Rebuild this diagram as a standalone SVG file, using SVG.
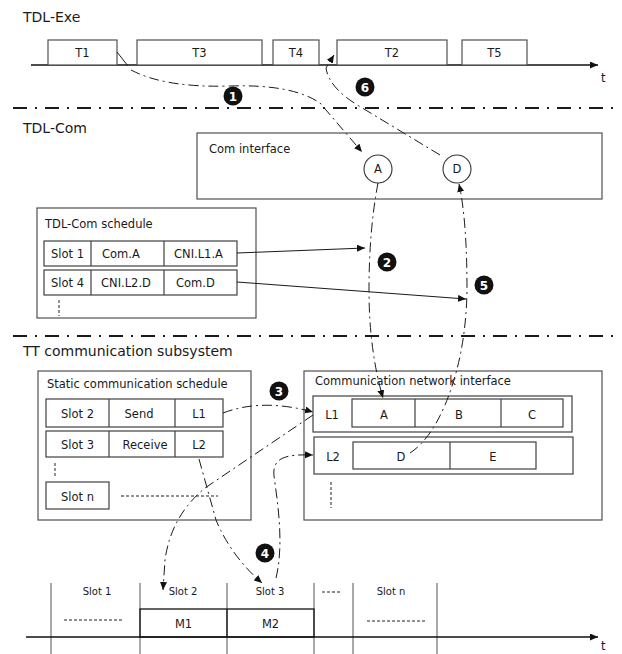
<svg xmlns="http://www.w3.org/2000/svg" width="622" height="654" viewBox="0 0 622 654">
  <style>
    text { font-family: "DejaVu Sans", Verdana, sans-serif; fill: #1a1a1a; }
    .h { font-size: 14px; }
    .t { font-size: 11.5px; }
    .s { font-size: 10px; }
    .c { text-anchor: middle; }
    .box { fill: #fff; stroke: #505050; stroke-width: 1.2; }
    .cell { fill: none; stroke: #404040; stroke-width: 1.2; }
    .axis { fill: none; stroke: #111; stroke-width: 1.6; }
    .div { fill: none; stroke: #1a1a1a; stroke-width: 2; stroke-dasharray: 14 8 2 8; }
    .flow { fill: none; stroke: #1a1a1a; stroke-width: 1; stroke-dasharray: 10 4 2 4; }
    .line { fill: none; stroke: #1a1a1a; stroke-width: 1; }
    .dot { fill: none; stroke: #222; stroke-width: 1; stroke-dasharray: 3 2; }
    .grid { fill: none; stroke: #707070; stroke-width: 1.2; }
    .badge circle { fill: #111; }
    .badge text { fill: #fff; font-size: 12px; font-weight: bold; text-anchor: middle; }
  </style>
  <defs>
    <marker id="arr" markerWidth="9" markerHeight="8" refX="8" refY="3.5" orient="auto" markerUnits="userSpaceOnUse">
      <path d="M0,0 L8,3.5 L0,7 z" fill="#111"/>
    </marker>
  </defs>

  <!-- layer separators -->
  <g id="separators">
    <line class="div" x1="13" y1="108" x2="617" y2="108"/>
    <line class="div" x1="13" y1="336" x2="617" y2="336"/>
  </g>

  <!-- TDL-Exe timeline -->
  <g id="tdl-exe">
    <text class="h" x="23" y="22">TDL-Exe</text>
    <line class="axis" x1="31" y1="65" x2="598" y2="65" marker-end="url(#arr)"/>
    <text class="t" x="601" y="82">t</text>
  </g>
  <g id="task-T1"><rect class="box" x="48" y="40" width="69" height="25"/><text class="t c" x="82.5" y="57">T1</text></g>
  <g id="task-T3"><rect class="box" x="137" y="40" width="125" height="25"/><text class="t c" x="199.5" y="57">T3</text></g>
  <g id="task-T4"><rect class="box" x="273" y="40" width="46" height="25"/><text class="t c" x="296" y="57">T4</text></g>
  <g id="task-T2"><rect class="box" x="337" y="40" width="110" height="25"/><text class="t c" x="392" y="57">T2</text></g>
  <g id="task-T5"><rect class="box" x="462" y="40" width="65" height="25"/><text class="t c" x="494.5" y="57">T5</text></g>

  <!-- TDL-Com layer -->
  <text class="h" x="23" y="133">TDL-Com</text>
  <g id="com-interface">
    <rect class="box" x="197" y="133" width="405" height="66"/>
    <text class="t" x="209" y="153">Com interface</text>
  </g>
  <g id="port-A"><circle cx="378" cy="169" r="14" fill="#fff" stroke="#333" stroke-width="1.1"/><text class="t c" x="378" y="173">A</text></g>
  <g id="port-D"><circle cx="457" cy="169" r="14" fill="#fff" stroke="#333" stroke-width="1.1"/><text class="t c" x="457" y="173">D</text></g>

  <g id="tdl-com-schedule">
    <rect class="box" x="37" y="208" width="219" height="110"/>
    <text class="t" x="45" y="228">TDL-Com schedule</text>
    <rect class="cell" x="44" y="241" width="193" height="25"/>
    <line class="cell" x1="91" y1="241" x2="91" y2="266"/>
    <line class="cell" x1="164" y1="241" x2="164" y2="266"/>
    <text class="t c" x="67.5" y="258">Slot 1</text>
    <text class="t" x="102" y="258">Com.A</text>
    <text class="t" x="174" y="258">CNI.L1.A</text>
    <rect class="cell" x="44" y="270" width="193" height="25"/>
    <line class="cell" x1="91" y1="270" x2="91" y2="295"/>
    <line class="cell" x1="164" y1="270" x2="164" y2="295"/>
    <text class="t c" x="67.5" y="287">Slot 4</text>
    <text class="t" x="101" y="287">CNI.L2.D</text>
    <text class="t" x="176" y="287">Com.D</text>
    <line class="dot" x1="59" y1="300" x2="59" y2="316" stroke-dasharray="2 2"/>
  </g>

  <!-- TT communication subsystem -->
  <text class="h" x="23" y="356">TT communication subsystem</text>
  <g id="static-schedule">
    <rect class="box" x="38" y="371" width="213" height="149"/>
    <text class="t" x="47" y="388">Static communication schedule</text>
    <rect class="cell" x="46" y="399" width="177" height="28"/>
    <line class="cell" x1="109" y1="399" x2="109" y2="427"/>
    <line class="cell" x1="175" y1="399" x2="175" y2="427"/>
    <text class="t c" x="77.5" y="418">Slot 2</text>
    <text class="t c" x="139" y="418">Send</text>
    <text class="t c" x="199" y="418">L1</text>
    <rect class="cell" x="46" y="431" width="177" height="26"/>
    <line class="cell" x1="109" y1="431" x2="109" y2="457"/>
    <line class="cell" x1="175" y1="431" x2="175" y2="457"/>
    <text class="t c" x="77.5" y="449">Slot 3</text>
    <text class="t c" x="145" y="449">Receive</text>
    <text class="t c" x="199" y="449">L2</text>
    <line class="dot" x1="55" y1="463" x2="55" y2="478"/>
    <rect class="cell" x="46" y="482" width="63" height="27"/>
    <text class="t c" x="77.5" y="501">Slot n</text>
    <line class="dot" x1="121" y1="496" x2="218" y2="496"/>
  </g>

  <g id="cni">
    <rect class="box" x="304" y="371" width="298" height="149"/>
    <text class="t" x="315" y="385">Communication network interface</text>
    <rect class="cell" x="313" y="396" width="259" height="36"/>
    <text class="t c" x="332" y="419">L1</text>
    <rect class="cell" x="352" y="399" width="211" height="28"/>
    <line class="cell" x1="415" y1="399" x2="415" y2="427"/>
    <line class="cell" x1="501" y1="399" x2="501" y2="427"/>
    <text class="t c" x="384" y="419">A</text>
    <text class="t c" x="459" y="419">B</text>
    <text class="t c" x="532" y="419">C</text>
    <rect class="cell" x="314" y="437" width="259" height="37"/>
    <text class="t c" x="333" y="461">L2</text>
    <rect class="cell" x="353" y="442" width="183" height="27"/>
    <line class="cell" x1="450" y1="442" x2="450" y2="469"/>
    <text class="t c" x="401" y="461">D</text>
    <text class="t c" x="493" y="461">E</text>
    <line class="dot" x1="331" y1="482" x2="331" y2="508"/>
  </g>

  <!-- bus timeline -->
  <g id="bus-timeline">
    <line class="grid" x1="51" y1="583" x2="51" y2="654"/>
    <line class="grid" x1="140" y1="583" x2="140" y2="654"/>
    <line class="grid" x1="227" y1="583" x2="227" y2="654"/>
    <line class="grid" x1="314" y1="583" x2="314" y2="654"/>
    <line class="grid" x1="353" y1="583" x2="353" y2="654"/>
    <line class="grid" x1="437" y1="583" x2="437" y2="654"/>
    <rect x="140" y="609" width="174" height="28" fill="none" stroke="#222" stroke-width="1.4"/>
    <line x1="227" y1="609" x2="227" y2="637" stroke="#222" stroke-width="1.4"/>
    <line class="axis" x1="26" y1="637" x2="598" y2="637" marker-end="url(#arr)"/>
    <text class="t" x="601" y="650">t</text>
    <text class="s c" x="97" y="595">Slot 1</text>
    <text class="s c" x="183" y="595">Slot 2</text>
    <text class="s c" x="270" y="595">Slot 3</text>
    <text class="s c" x="391" y="595">Slot n</text>
    <line class="dot" x1="64" y1="620" x2="124" y2="620"/>
    <line class="dot" x1="322" y1="592" x2="342" y2="592"/>
    <line class="dot" x1="367" y1="621" x2="427" y2="621"/>
    <text class="t c" x="183.5" y="628">M1</text>
    <text class="t c" x="270.5" y="628">M2</text>
  </g>

  <!-- data flow connectors -->
  <g id="connectors">
    <path class="line" d="M117,52 L128,66"/>
    <path class="flow" d="M131,70 Q165,88 230,86 Q292,84 320,103 L362,152" marker-end="url(#arr)"/>
    <path class="flow" d="M440,155 L359,106 Q329,88 326,68 L334,55" marker-end="url(#arr)"/>
    <path class="line" d="M237,253 L365,248" marker-end="url(#arr)"/>
    <path class="line" d="M237,282 L466,299" marker-end="url(#arr)"/>
    <path class="flow" d="M378,183 Q369,230 369,290 Q369,350 383,398" marker-end="url(#arr)"/>
    <path class="flow" d="M410,453 Q430,440 445,405 Q466,355 467,290 Q467,220 459,184" marker-end="url(#arr)"/>
    <path class="flow" d="M223,413 Q262,398 313,412" marker-end="url(#arr)"/>
    <path class="flow" d="M313,415 L205,488 Q171,516 165,560 L163,590" marker-end="url(#arr)"/>
    <path class="flow" d="M199,459 L216,520 Q231,556 262,583" marker-end="url(#arr)"/>
    <path class="flow" d="M276,578 C284,545 278,505 274,476 C272,458 285,454 313,455" marker-end="url(#arr)"/>
  </g>

  <!-- step numbers -->
  <g id="step-1" class="badge"><circle cx="233" cy="96" r="9.5"/><text x="233" y="100.5">1</text></g>
  <g id="step-2" class="badge"><circle cx="387" cy="262" r="9.5"/><text x="387" y="266.5">2</text></g>
  <g id="step-3" class="badge"><circle cx="279" cy="391" r="9.5"/><text x="279" y="395.5">3</text></g>
  <g id="step-4" class="badge"><circle cx="265" cy="553" r="9.5"/><text x="265" y="557.5">4</text></g>
  <g id="step-5" class="badge"><circle cx="484" cy="285" r="9.5"/><text x="484" y="289.5">5</text></g>
  <g id="step-6" class="badge"><circle cx="365" cy="87" r="9.5"/><text x="365" y="91.5">6</text></g>
</svg>
